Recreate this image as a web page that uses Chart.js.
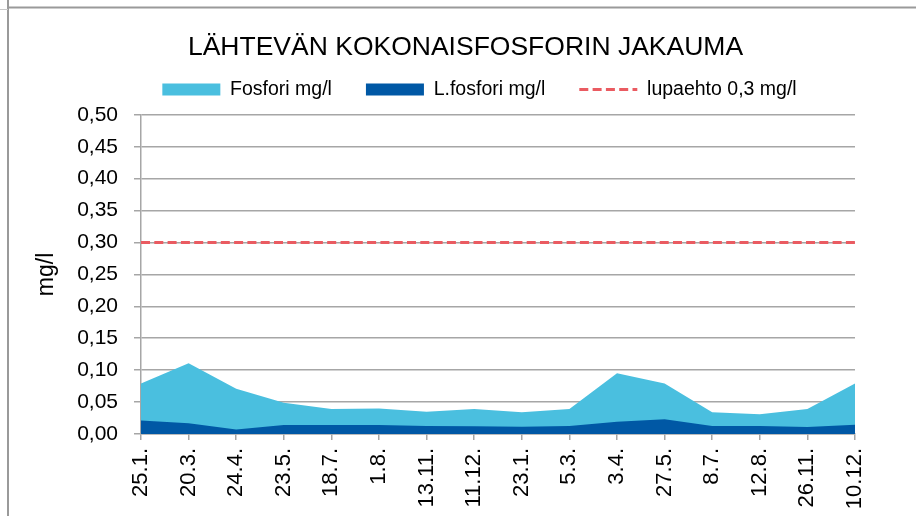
<!DOCTYPE html>
<html>
<head>
<meta charset="utf-8">
<script src="https://cdn.jsdelivr.net/npm/chart.js@4/dist/chart.umd.min.js"></script>
<style>
html,body{margin:0;padding:0;background:#fff;}
#wrap{width:916px;height:516px;position:relative;}
</style>
</head>
<body>
<div id="wrap"><canvas id="c" width="916" height="516"></canvas></div>
<script>
const categories = ['25.1.','20.3.','24.4.','23.5.','18.7.','1.8.','13.11.','11.12.','23.1.','5.3.','3.4.','27.5.','8.7.','12.8.','26.11.','10.12.'];
const fosfori = [0.079, 0.111, 0.071, 0.049, 0.039, 0.040, 0.035, 0.039, 0.034, 0.039, 0.095, 0.079, 0.034, 0.031, 0.039, 0.079];
const lFosfori = [0.021, 0.017, 0.007, 0.014, 0.014, 0.014, 0.0125, 0.012, 0.0115, 0.0125, 0.019, 0.023, 0.0125, 0.0125, 0.011, 0.0145];
const lupaehto = [0.3, 0.3, 0.3, 0.3, 0.3, 0.3, 0.3, 0.3, 0.3, 0.3, 0.3, 0.3, 0.3, 0.3, 0.3, 0.3];
const yTickLabels = ['0,00','0,05','0,10','0,15','0,20','0,25','0,30','0,35','0,40','0,45','0,50'];
const seriesNames = ['Fosfori mg/l', 'L.fosfori mg/l', 'lupaehto 0,3 mg/l'];
const chartTitle = 'LÄHTEVÄN KOKONAISFOSFORIN JAKAUMA';
const yAxisTitle = 'mg/l';

const LIGHT = '#4ABFDF', DARK = '#0058A5', RED = '#EA5B61', GRID = '#A6A6A6';
const FONT = "'Liberation Sans', Arial, sans-serif";

// fixed legend box height, and a small horizontal shift of the legend row
(function(){
  const LegendEl = Chart.Legend && Chart.Legend._element;
  if (LegendEl && typeof LegendEl.prototype.fit === 'function') {
    const f = LegendEl.prototype.fit;
    LegendEl.prototype.fit = function(){ f.apply(this, arguments); if (this.isHorizontal && this.isHorizontal()) this.height = 69; };
    const d = LegendEl.prototype.draw;
    LegendEl.prototype.draw = function(){ this.ctx.save(); this.ctx.translate(14, 0); d.apply(this, arguments); this.ctx.restore(); };
  }
})();

const frame = {
  id: 'frame',
  afterDraw(chart) {
    const ctx = chart.ctx;
    ctx.save();
    ctx.strokeStyle = '#9a9a9a';
    ctx.lineWidth = 2;
    ctx.beginPath();
    ctx.moveTo(8, 7.5); ctx.lineTo(916, 7.5);
    ctx.moveTo(8, 0); ctx.lineTo(8, 516);
    ctx.stroke();
    ctx.strokeStyle = '#c8c8c8';
    ctx.lineWidth = 1;
    ctx.beginPath();
    ctx.moveTo(0, 9.5); ctx.lineTo(8, 9.5);
    ctx.stroke();
    ctx.restore();
  }
};

new Chart(document.getElementById('c'), {
  type: 'line',
  data: {
    labels: categories,
    datasets: [
      { label: seriesNames[0], data: fosfori, fill: 'origin', backgroundColor: LIGHT, borderColor: LIGHT,
        borderWidth: 0, pointRadius: 0, tension: 0, order: 2 },
      { label: seriesNames[1], data: lFosfori, fill: 'origin', backgroundColor: DARK, borderColor: DARK,
        borderWidth: 0, pointRadius: 0, tension: 0, order: 1 },
      { label: seriesNames[2], data: lupaehto, fill: false, backgroundColor: RED, borderColor: RED,
        borderWidth: 3, borderDash: [9, 4.3], pointRadius: 0, tension: 0, order: 0 }
    ]
  },
  options: {
    responsive: false,
    animation: false,
    devicePixelRatio: 1,
    layout: { padding: { left: 76, right: 61, top: 0, bottom: 0 } },
    plugins: {
      tooltip: { enabled: false },
      title: {
        display: true, text: chartTitle, color: '#000',
        font: { family: FONT, size: 26.5, weight: 'normal' },
        padding: { top: 32, bottom: -18 }
      },
      legend: {
        display: true,
        labels: {
          color: '#000',
          font: { family: FONT, size: 19.5 },
          padding: 34,
          usePointStyle: true,
          pointStyleWidth: 58,
          boxHeight: 12,
          generateLabels(chart) {
            const ds = chart.data.datasets;
            return [0, 1, 2].map(i => ({
              text: ds[i].label,
              datasetIndex: i,
              fillStyle: i === 2 ? 'rgba(0,0,0,0)' : ds[i].backgroundColor,
              strokeStyle: ds[i].borderColor,
              lineWidth: i === 2 ? 3 : 0,
              lineDash: i === 2 ? [9, 4.3] : [],
              pointStyle: i === 2 ? 'line' : 'rect',
              fontColor: '#000',
              hidden: false
            }));
          }
        }
      }
    },
    scales: {
      x: {
        type: 'category',
        offset: false,
        afterFit(s) { s.height = 82; },
        grid: { display: true, drawOnChartArea: false, drawTicks: true, tickLength: 6, color: GRID, lineWidth: 1.5 },
        border: { display: true, color: GRID, width: 1.5 },
        ticks: { color: '#000', font: { family: FONT, size: 22 }, maxRotation: 90, minRotation: 90, padding: 8, autoSkip: false }
      },
      y: {
        min: 0, max: 0.5,
        afterFit(s) { s.width = 65; },
        grid: { color: GRID, lineWidth: 1.5, tickLength: 7 },
        border: { display: true, color: GRID, width: 1.5 },
        ticks: {
          stepSize: 0.05, color: '#000', font: { family: FONT, size: 21 }, padding: 16,
          callback: (v, i) => yTickLabels[i]
        },
        title: { display: true, text: yAxisTitle, color: '#000', font: { family: FONT, size: 23 }, padding: { top: -43, bottom: 0 } }
      }
    }
  },
  plugins: [frame]
});
</script>
</body>
</html>
